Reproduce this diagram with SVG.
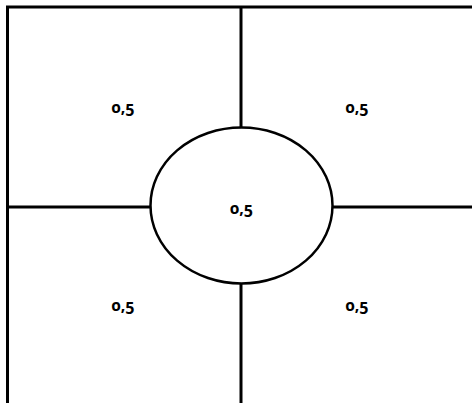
<svg xmlns="http://www.w3.org/2000/svg" width="472" height="403" viewBox="0 0 472 403">
<style>
.ln{stroke:#000;stroke-width:3;fill:none}
.lb{font-family:"Noto Sans",Lato,sans-serif;font-weight:bold;font-size:16px;font-variant-numeric:oldstyle-nums;font-feature-settings:"onum" 1;text-anchor:middle;fill:#000}
</style>
<rect width="472" height="403" fill="#fff"/>
<g id="connectors">
<path class="ln" d="M7.5,403 V7 H472"/>
<path class="ln" d="M241,7 V127.5"/>
<path class="ln" d="M241,283.5 V403"/>
<path class="ln" d="M7.5,207 H150.5"/>
<path class="ln" d="M332.5,207 H472"/>
</g>
<g id="center"><ellipse cx="241.5" cy="205.5" rx="91" ry="78" fill="#fff" stroke="#000" stroke-width="2.5"/><text class="lb" x="241.5" y="214">0,5</text></g>
<g id="topleft"><text class="lb" x="123" y="113">0,5</text></g>
<g id="topright"><text class="lb" x="357" y="113">0,5</text></g>
<g id="bottomleft"><text class="lb" x="123" y="311">0,5</text></g>
<g id="bottomright"><text class="lb" x="357" y="311">0,5</text></g>
</svg>
